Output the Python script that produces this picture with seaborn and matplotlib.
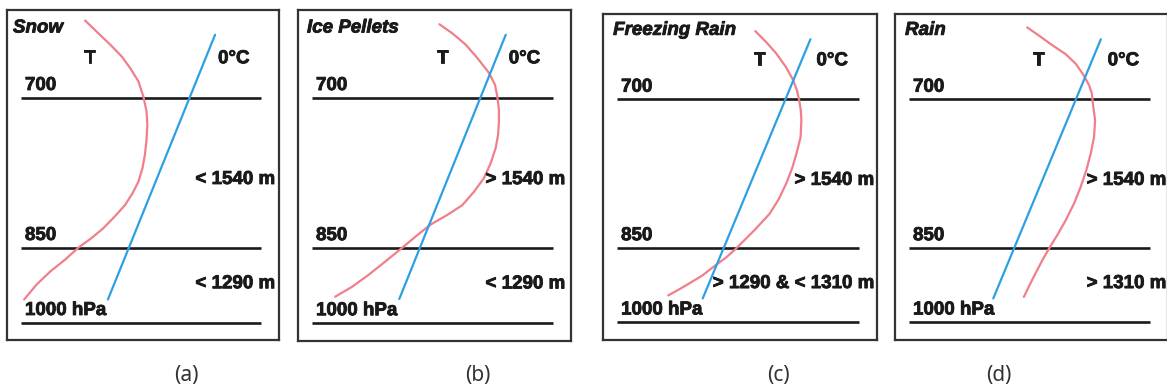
import numpy as np
import pandas as pd
import seaborn as sns
import matplotlib.pyplot as plt
import matplotlib.patheffects as pe

# pressure levels (height units: 1000 hPa = 0, 850 hPa = 1, 700 hPa = 3)
levels = [0, 1, 3]
level_labels = ['1000 hPa', '850', '700']

panel_names = ['Snow', 'Ice Pellets', 'Freezing Rain', 'Rain']
panel_tags = ['(a)', '(b)', '(c)', '(d)']
upper_labels = ['< 1540 m', '> 1540 m', '> 1540 m', '> 1540 m']
lower_labels = ['< 1290 m', '< 1290 m', '> 1290 & < 1310 m', '> 1310 m']

# temperature profile T (x = temperature, h = height)
snow_t_x = [2.87, 3.30, 3.79, 4.22, 4.52, 4.83, 5.01, 5.13, 5.16, 5.13, 5.07, 4.98,
            4.83, 4.62, 4.34, 3.97, 3.54, 3.11, 2.62, 2.13, 1.58, 1.09, 0.63]
snow_t_h = [4.03, 3.88, 3.71, 3.55, 3.40, 3.22, 3.02, 2.82, 2.64, 2.44, 2.24, 2.06,
            1.88, 1.73, 1.57, 1.42, 1.26, 1.13, 1.00, 0.84, 0.68, 0.51, 0.31]
ice_t_x = [5.18, 5.65, 6.14, 6.57, 7.00, 7.22, 7.30, 7.36, 7.36, 7.33, 7.24, 7.06,
           6.81, 6.45, 6.02, 5.47, 4.85, 4.30, 3.81, 3.20, 2.58, 1.97, 1.36]
ice_t_h = [3.98, 3.86, 3.71, 3.53, 3.33, 3.17, 3.02, 2.84, 2.68, 2.51, 2.33, 2.13,
           1.93, 1.75, 1.57, 1.44, 1.31, 1.15, 1.00, 0.82, 0.64, 0.48, 0.35]
frz_t_x = [5.56, 5.96, 6.32, 6.67, 6.94, 7.08, 7.16, 7.22, 7.24, 7.21, 7.06, 6.90,
           6.69, 6.42, 6.08, 5.53, 4.85, 4.49, 4.12, 3.63, 3.14, 2.77, 2.38]
frz_t_h = [3.92, 3.77, 3.62, 3.44, 3.26, 3.12, 2.99, 2.85, 2.72, 2.49, 2.27, 2.07,
           1.87, 1.66, 1.46, 1.24, 0.99, 0.87, 0.77, 0.63, 0.52, 0.44, 0.36]
rain_t_x = [4.84, 5.27, 5.76, 6.25, 6.62, 6.92, 7.11, 7.21, 7.25, 7.33, 7.29, 7.17,
            7.01, 6.80, 6.56, 6.25, 5.94, 5.64, 5.39, 5.15, 4.93, 4.72]
rain_t_h = [3.97, 3.86, 3.73, 3.61, 3.48, 3.32, 3.19, 3.08, 2.94, 2.72, 2.49, 2.27,
            2.05, 1.82, 1.60, 1.37, 1.17, 0.99, 0.83, 0.66, 0.50, 0.34]

# 0°C isotherm
snow_0c_x = [3.71, 7.65]
snow_0c_h = [0.31, 3.84]
ice_0c_x = [3.71, 7.61]
ice_0c_h = [0.32, 3.84]
frz_0c_x = [3.64, 7.57]
frz_0c_h = [0.32, 3.81]
rain_0c_x = [3.60, 7.54]
rain_0c_h = [0.32, 3.81]

t_profiles = [(snow_t_x, snow_t_h), (ice_t_x, ice_t_h), (frz_t_x, frz_t_h), (rain_t_x, rain_t_h)]
zero_lines = [(snow_0c_x, snow_0c_h), (ice_0c_x, ice_0c_h), (frz_0c_x, frz_0c_h), (rain_0c_x, rain_0c_h)]

# layout in pixels: left, top, width, height of each framed box
W, H = 1167, 392
boxes = [(7, 10, 272, 330), (298, 10, 273, 331), (603, 14, 274, 326), (895, 14, 273, 326)]
ylims = [(-0.23, 4.17), (-0.24, 4.17), (-0.24, 4.15), (-0.24, 4.15)]
name_x = [0.22, 0.33, 0.37, 0.37]
t_x = [3.05, 5.29, 5.70, 5.26]
zc_x = [7.76, 7.72, 7.79, 7.79]
right_x = [9.85, 9.78, 9.89, 9.93]
tag_x = [186, 478, 778, 999]

sns.set_style('white')
plt.rcParams['font.family'] = ['Liberation Sans', 'DejaVu Sans']

fig = plt.figure(figsize=(W / 100, H / 100), dpi=100)
RED = '#f07f8b'
BLUE = '#2f9fe4'
INK = '#1a1a1a'
txt = dict(fontsize=13.5, fontweight='bold', color=INK,
           path_effects=[pe.withStroke(linewidth=0.6, foreground=INK)])

for i in range(4):
    l, t, w, h = boxes[i]
    ax = fig.add_axes([l / W, 1 - (t + h) / H, w / W, h / H])
    ax.set_xlim(0, 10)
    ax.set_ylim(*ylims[i])

    for lev, lab in zip(levels, level_labels):
        ax.hlines(lev, 0.5, 9.35, color=INK, lw=1.9, zorder=1)
        ax.text(0.66, lev + 0.05, lab, ha='left', va='bottom', **txt)

    tx, th = t_profiles[i]
    sns.lineplot(x=tx, y=th, sort=False, estimator=None, color=RED, lw=1.6,
                 ax=ax, zorder=2, solid_joinstyle='round')
    zx, zh = zero_lines[i]
    sns.lineplot(x=zx, y=zh, sort=False, estimator=None, color=BLUE, lw=1.6, ax=ax, zorder=3)

    ax.text(name_x[i], 3.93, panel_names[i], ha='left', va='center', style='italic', **txt)
    ax.text(t_x[i], 3.52, 'T', ha='center', va='center', **txt)
    ax.text(zc_x[i], 3.52, '0°C', ha='left', va='center', **txt)
    ax.text(right_x[i], 1.91, upper_labels[i], ha='right', va='center', clip_on=False, **txt)
    ax.text(right_x[i], 0.52, lower_labels[i], ha='right', va='center', clip_on=False, **txt)

    ax.set_xticks([])
    ax.set_yticks([])
    ax.set_xlabel('')
    ax.set_ylabel('')
    for s in ax.spines.values():
        s.set_visible(True)
        s.set_color('#333333')
        s.set_linewidth(1.6)

    fig.text(tag_x[i] / W, 1 - 375 / H, panel_tags[i], ha='center', va='center',
             fontsize=15, color='#333333', family=['Noto Sans', 'DejaVu Sans'])

fig.savefig('out.png', dpi=100, facecolor='white')
